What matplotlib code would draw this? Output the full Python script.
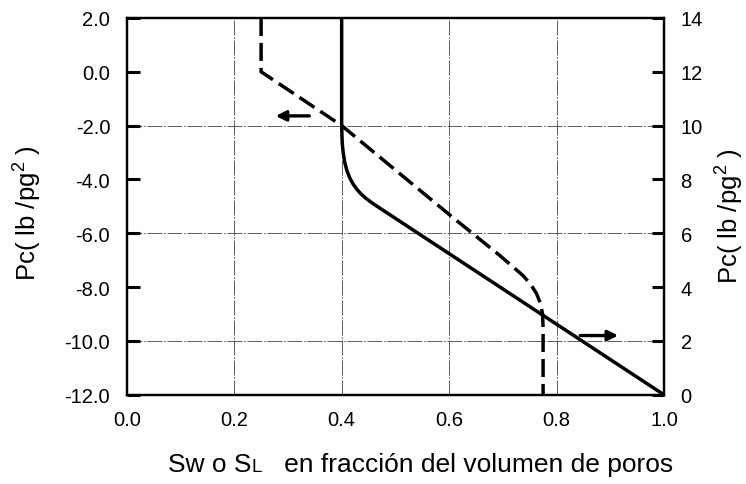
import matplotlib
matplotlib.use("Agg")
import matplotlib.pyplot as plt
from matplotlib.offsetbox import TextArea, HPacker, AnnotationBbox

plt.rcParams['font.family'] = ['Liberation Sans', 'DejaVu Sans']
plt.rcParams['axes.unicode_minus'] = False
plt.rcParams['mathtext.fontset'] = 'custom'
plt.rcParams['mathtext.rm'] = 'Liberation Sans'

# imbibition curve (solid), read on the right axis, Pc in lb/pg2
sw_solid = [0.400, 0.400, 0.401, 0.403, 0.406, 0.410, 0.415, 0.421,
            0.428, 0.436, 0.445, 0.455, 0.466, 1.000]
pc_solid = [14.0, 10.0, 9.36, 8.96, 8.61, 8.31, 8.06, 7.84,
            7.64, 7.46, 7.30, 7.15, 7.00, 0.0]

# drainage curve (dashed), read on the left axis
sw_dash = [0.25, 0.25, 0.40, 0.60, 0.694, 0.715, 0.738, 0.752, 0.763, 0.770, 0.774, 0.775, 0.775]
pc_dash = [2.0, 0.0, -2.0, -5.3, -6.82, -7.18, -7.58, -7.9, -8.25, -8.6, -9.0, -9.5, -12.0]

x_ticks = [0.0, 0.2, 0.4, 0.6, 0.8, 1.0]
left_ticks = [2.0, 0.0, -2.0, -4.0, -6.0, -8.0, -10.0, -12.0]
right_ticks = [0, 2, 4, 6, 8, 10, 12, 14]

fig = plt.figure(figsize=(7.46, 4.85), dpi=100)
ax = fig.add_axes([0.170, 0.184, 0.720, 0.777])
ax2 = ax.twinx()

ax.set_xlim(0, 1)
ax.set_ylim(-12, 2)
ax2.set_ylim(0, 14)

# grid lines (thin, broken)
grid_style = dict(color='#444444', lw=0.6, linestyle=(0, (18, 2, 2, 2)), zorder=1)
for gx in [0.2, 0.4, 0.6, 0.8]:
    ax.axvline(gx, **grid_style)
for gy in [-2.0, -6.0, -10.0]:
    ax.axhline(gy, **grid_style)

ax.plot(sw_dash, pc_dash, color='black', lw=2.5, dashes=(5.2, 2.0), zorder=3)
ax2.plot(sw_solid, pc_solid, color='black', lw=2.5, zorder=3,
         solid_joinstyle='round')

# arrows pointing to the axis each curve belongs to
ax.annotate('', xy=(0.272, -1.64), xytext=(0.345, -1.64),
            arrowprops=dict(arrowstyle='-|>,head_length=0.6,head_width=0.3',
                            color='black', lw=2.4))
ax2.annotate('', xy=(0.920, 2.2), xytext=(0.839, 2.2),
             arrowprops=dict(arrowstyle='-|>,head_length=0.6,head_width=0.3',
                             color='black', lw=2.4))

ax.set_xticks(x_ticks)
ax.set_xticklabels([f"{v:.1f}" for v in x_ticks])
ax.set_yticks(left_ticks)
ax.set_yticklabels([f"{v:.1f}" for v in left_ticks])
ax2.set_yticks(right_ticks)
ax2.set_yticklabels([str(v) for v in right_ticks])

ax.tick_params(axis='x', length=0, pad=11, labelsize=14.5)
ax.tick_params(axis='y', direction='in', length=9, width=2.2, pad=12, labelsize=14.5)
ax2.tick_params(axis='y', direction='in', length=9, width=2.2, pad=12, labelsize=14.5)

for a in (ax, ax2):
    for s in a.spines.values():
        s.set_linewidth(1.6)

ylabel = "Pc( lb /pg$\\mathregular{^2}$ )"
fig.text(0.038, 0.56, ylabel, rotation=90, ha='center', va='center', fontsize=18.5)
fig.text(0.978, 0.555, ylabel, rotation=90, ha='center', va='center', fontsize=18.5)

# x label with a small capital L in S_L
parts = [TextArea("Sw o S", textprops=dict(size=19)),
         TextArea("L", textprops=dict(size=13.5)),
         TextArea("   en fracción del volumen de poros", textprops=dict(size=19))]
box = HPacker(children=parts, align="baseline", pad=0, sep=0)
ab = AnnotationBbox(box, (0.564, 0.041), xycoords='figure fraction',
                    frameon=False, box_alignment=(0.5, 0.5))
fig.add_artist(ab)

fig.savefig("out.png", dpi=100)
